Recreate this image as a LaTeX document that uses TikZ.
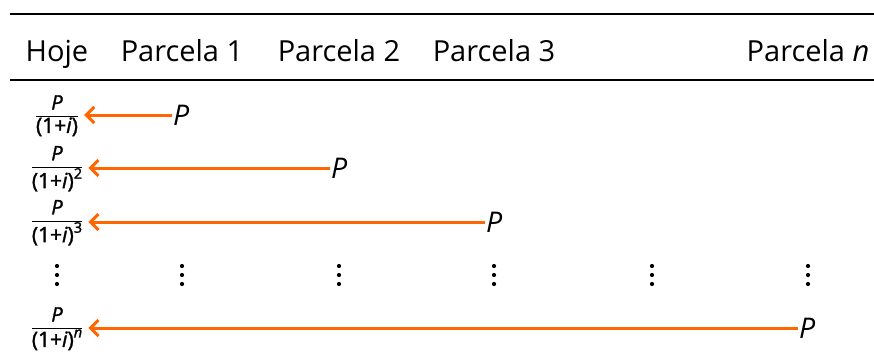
\documentclass[tikz,border=0pt]{standalone}
\usepackage{fontspec}
\setmainfont{Open Sans}
\usetikzlibrary{arrows.meta}
\definecolor{flow}{RGB}{255,102,0}

% present-value fraction: P over (1+i)^k, set a little heavier
\newcommand\pvfrac[1]{{\fontsize{21}{21}\selectfont\addfontfeature{FakeBold=1.5}%
  \setlength\arrayrulewidth{1.6pt}%
  \begin{tabular}{@{}c@{}}{\fontsize{20}{21}\selectfont\itshape P}\\\hline
  (1+\textit{i})\raisebox{0.45em}{\fontsize{14.5}{14}\selectfont #1}\end{tabular}}}

\tikzset{
  head/.style={anchor=base, font=\fontsize{29}{33}\selectfont, inner sep=0pt},
  pay/.style={anchor=west, font=\fontsize{28.5}{32}\selectfont\itshape, inner sep=1pt},
  pv/.style={inner xsep=6pt, inner ysep=0pt},
  disc/.style={draw=flow, line width=3pt, -{Straight Barb[length=8pt,width=16pt]}},
}

\begin{document}
\begin{tikzpicture}[x=1pt,y=-1pt]
\useasboundingbox (0,0) rectangle (874,354);

% table rules
\draw[line width=1.8pt] (10,14) -- (874,14);
\draw[line width=1.3pt] (10,80) -- (874,80);

% column headings
\node[head] (h0) at (57,61) {Hoje};
\node[head] (h1) at (182,61) {Parcela 1};
\node[head] (h2) at (339,61) {Parcela 2};
\node[head] (h3) at (494,61) {Parcela 3};
\node[head] (hn) at (808,61) {Parcela \textit{n}};

% discounted values
\node[pv] (f1) at (57,117) {\pvfrac{}};
\node[pv] (f2) at (57,170) {\pvfrac{2}};
\node[pv] (f3) at (57,224) {\pvfrac{3}};
\node[pv] (fn) at (57,330) {\pvfrac{\itshape n}};

% payments
\node[pay] (p1) at (172,115) {P};
\node[pay] (p2) at (330,168) {P};
\node[pay] (p3) at (485,222) {P};
\node[pay] (pn) at (798,328) {P};

% discounting arrows
\draw[disc] (p1.west) -- (f1.east |- p1.west);
\draw[disc] (p2.west) -- (f2.east |- p2.west);
\draw[disc] (p3.west) -- (f3.east |- p3.west);
\draw[disc] (pn.west) -- (fn.east |- pn.west);

% vertical ellipses
\foreach \x in {57,182,339,494,652,808}
  \foreach \y in {266,275,284}
    \fill (\x,\y) circle (2.1);
\end{tikzpicture}
\end{document}
